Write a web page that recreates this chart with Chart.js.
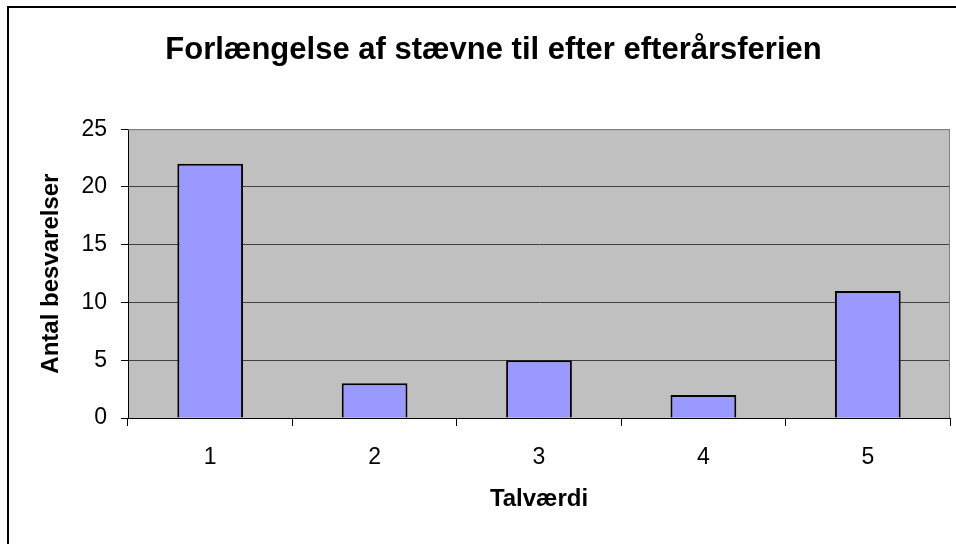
<!DOCTYPE html>
<html>
<head>
<meta charset="utf-8">
<script src="https://cdn.jsdelivr.net/npm/chart.js@4/dist/chart.umd.min.js"></script>
<style>
  html, body { margin: 0; padding: 0; background: #fff; }
  #wrap { width: 956px; height: 544px; }
</style>
</head>
<body>
<div id="wrap"><canvas id="graf"></canvas></div>
<script>
// data
const kategorier = ['1', '2', '3', '4', '5'];
const antal = [22, 3, 5, 2, 11];
const yTicks = [0, 5, 10, 15, 20, 25];

const FONT = "'Liberation Sans', Arial, sans-serif";

// ramme + grå plotbaggrund
const baggrund = {
    id: 'baggrund',
    beforeDraw(chart) {
        const ctx = chart.ctx, a = chart.chartArea;
        ctx.save();
        ctx.fillStyle = '#000';
        ctx.fillRect(7, 6, 2, 544);
        ctx.fillRect(7, 6, 956, 2);
        ctx.fillStyle = '#C0C0C0';
        ctx.fillRect(a.left, a.top, a.right - a.left, a.bottom - a.top);
        ctx.restore();
    },
    afterDatasetsDraw(chart) {
        const ctx = chart.ctx, a = chart.chartArea;
        ctx.save();
        ctx.strokeStyle = '#808080';
        ctx.lineWidth = 1;
        ctx.beginPath();
        ctx.moveTo(a.left, a.top + 0.5);
        ctx.lineTo(a.right - 0.5, a.top + 0.5);
        ctx.lineTo(a.right - 0.5, a.bottom);
        ctx.stroke();
        ctx.restore();
    }
};

new Chart(document.getElementById('graf').getContext('2d'), {
    type: 'bar',
    data: {
        labels: kategorier,
        datasets: [{
            label: 'Antal besvarelser',
            data: antal,
            backgroundColor: '#9999FF',
            borderColor: '#000',
            borderWidth: 2,
            barPercentage: 0.4,
            categoryPercentage: 1
        }]
    },
    options: {
        responsive: true,
        maintainAspectRatio: false,
        animation: false,
        layout: { padding: { left: 37, right: 6, top: 12, bottom: 0 } },
        plugins: {
            legend: { display: false },
            tooltip: { enabled: false },
            title: {
                display: true,
                text: 'Forlængelse af stævne til efter efterårsferien',
                color: '#000',
                font: { family: FONT, size: 31, weight: 'bold' },
                padding: { top: 20, bottom: 60 }
            }
        },
        scales: {
            x: {
                grid: {
                    display: true,
                    offset: true,
                    drawOnChartArea: false,
                    tickLength: 8,
                    tickColor: '#000'
                },
                border: { color: '#000', width: 1 },
                ticks: {
                    color: '#000',
                    font: { family: FONT, size: 23 },
                    padding: 18
                },
                title: {
                    display: true,
                    text: 'Talværdi',
                    color: '#000',
                    font: { family: FONT, size: 24, weight: 'bold' },
                    padding: { top: 0, bottom: 30 }
                },
                afterFit(scale) { scale.height = 126; }
            },
            y: {
                min: 0,
                max: 25,
                afterBuildTicks(scale) {
                    scale.ticks = yTicks.map(v => ({ value: v }));
                },
                grid: {
                    color: ctx => ctx.tick && ctx.tick.value === 25 ? '#808080' : '#404040',
                    tickLength: 7,
                    tickColor: '#000'
                },
                border: { color: '#000', width: 1 },
                ticks: {
                    color: '#000',
                    font: { family: FONT, size: 23 },
                    padding: 14
                },
                title: {
                    display: true,
                    text: 'Antal besvarelser',
                    color: '#000',
                    font: { family: FONT, size: 24, weight: 'bold' },
                    padding: { top: 0, bottom: 0 }
                },
                afterFit(scale) { scale.width = 91; }
            }
        }
    },
    plugins: [baggrund]
});
</script>
</body>
</html>
